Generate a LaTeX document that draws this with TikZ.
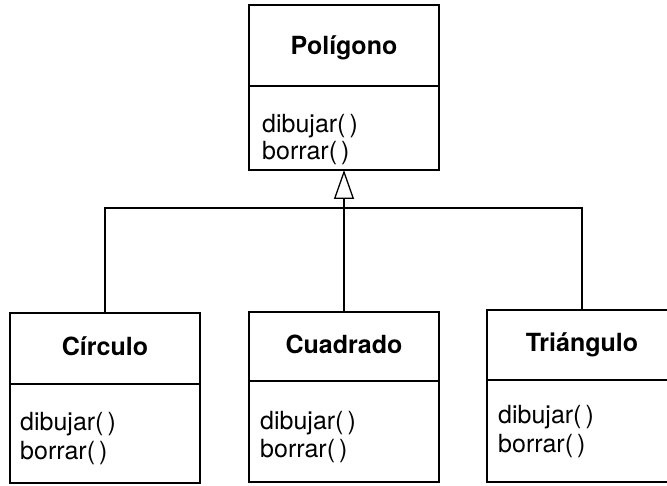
\documentclass[tikz,border=0pt]{standalone}
\usepackage{fontspec}
\setmainfont{TeX Gyre Heros}
\usetikzlibrary{arrows.meta}
\begin{document}
\begin{tikzpicture}[x=1pt,y=-1pt,
  part/.style={draw, line width=1.3pt, minimum width=190pt, inner sep=0pt, outer sep=0pt},
  ttl/.style={font=\fontsize{25}{28}\selectfont\bfseries, inner sep=0pt, anchor=base},
  mth/.style={font=\fontsize{25}{28}\selectfont, inner sep=0pt, anchor=base west},
  edge/.style={line width=1.3pt}]
\useasboundingbox (0,0) rectangle (667,486);
\clip (0,0) rectangle (667,486);
% Poligono
\node[part, minimum height=81pt, anchor=north] (polt) at (344,5) {};
\node[part, minimum height=84pt, anchor=north] (polm) at (polt.south) {};
\node[ttl] (poln) at (344,55) {Polígono};
\node[mth] (pold) at (262,133) {dibujar(\,)};
\node[mth] (polb) at (262,160) {borrar(\,)};
% Circulo
\node[part, minimum height=71pt, anchor=north] (cirt) at (105,313) {};
\node[part, minimum height=99pt, anchor=north] (cirm) at (cirt.south) {};
\node[ttl] (cirn) at (105,356) {Círculo};
\node[mth] (cird) at (20,431) {dibujar(\,)};
\node[mth] (cirb) at (20,459) {borrar(\,)};
% Cuadrado
\node[part, minimum height=69pt, anchor=north] (cuat) at (344,312) {};
\node[part, minimum height=101pt, anchor=north] (cuam) at (cuat.south) {};
\node[ttl] (cuan) at (344,354) {Cuadrado};
\node[mth] (cuad) at (260,429) {dibujar(\,)};
\node[mth] (cuab) at (260,457) {borrar(\,)};
% Triangulo
\node[part, minimum height=70pt, anchor=north] (trit) at (582,310) {};
\node[part, minimum height=102pt, anchor=north] (trim) at (trit.south) {};
\node[ttl] (trin) at (582,352) {Triángulo};
\node[mth] (trid) at (498,424) {dibujar(\,)};
\node[mth] (trib) at (498,452) {borrar(\,)};
% generalization
\coordinate (join) at (344,208);
\draw[edge] (cirt.north) |- (join) -| (trit.north);
\draw[edge, -{Triangle[open, length=29pt, width=20pt, line width=1.3pt]}] (cuat.north) -- (polm.south);
\end{tikzpicture}
\end{document}
